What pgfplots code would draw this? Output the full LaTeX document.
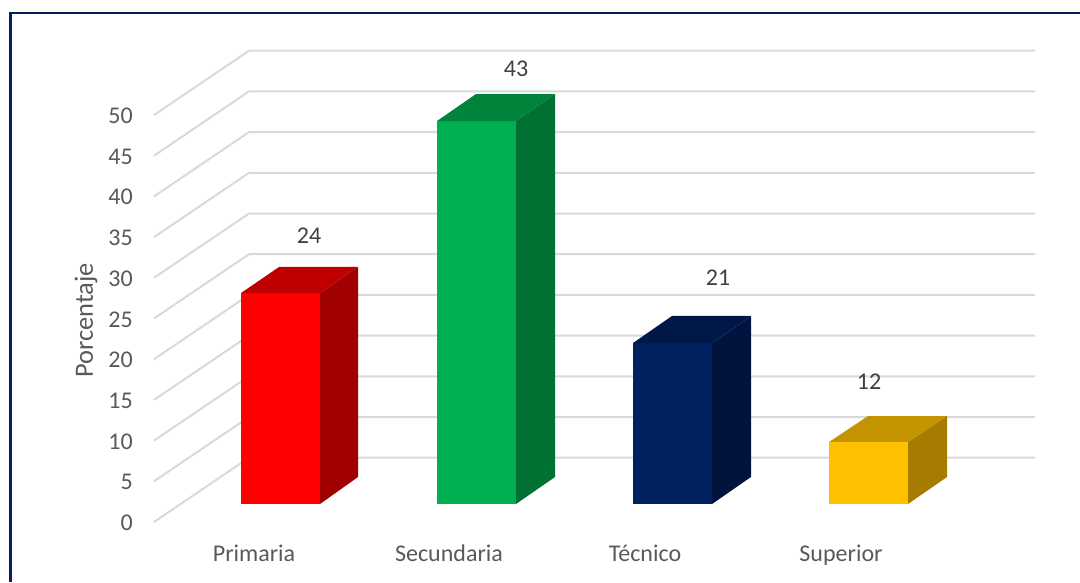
\documentclass[border=0pt]{standalone}
\usepackage{fontspec}
\setmainfont{Carlito}
\usepackage{pgfplots}
\pgfplotsset{compat=1.18}
\definecolor{gridc}{HTML}{D9D9D9}
\definecolor{txt}{HTML}{595959}
\definecolor{vals}{HTML}{404040}
\definecolor{navyframe}{HTML}{002060}
\definecolor{redside}{RGB}{160,0,0}
\definecolor{redtop}{RGB}{192,0,0}
\definecolor{grnfront}{RGB}{0,176,80}
\definecolor{grnside}{RGB}{0,112,51}
\definecolor{grntop}{RGB}{0,132,60}
\definecolor{blufront}{RGB}{0,32,96}
\definecolor{bluside}{RGB}{0,20,61}
\definecolor{blutop}{RGB}{0,24,72}
\definecolor{yelfront}{RGB}{255,192,0}
\definecolor{yelside}{RGB}{166,124,0}
\definecolor{yeltop}{RGB}{196,147,0}
\newcommand{\lab}{\fontsize{18}{20}\selectfont}
\pgfplotsset{
  wall/.style={draw=gridc,line width=1.5pt,line join=miter},
  face/.style={draw=none,fill=#1},
}
\begin{document}
\begin{tikzpicture}
\begin{axis}[
  scale only axis,
  width=660.75pt,
  height=354.09pt,
  xmin=154,xmax=1035,
  ymin=0,ymax=58,
  clip=false,
  axis line style={draw=none},
  major tick length=0pt,
  xtick={254,449,645,841},
  xticklabels={Primaria,Secundaria,Técnico,Superior},
  ytick={0,5,...,50},
  /pgf/number format/assume math mode=true,
  tick label style={font=\lab,text=txt},
  xticklabel style={yshift=-14pt,text height=12pt,text depth=4pt},
  yticklabel style={inner sep=0pt,xshift=-15.75pt,yshift=-0.6pt},
  ylabel={Porcentaje},
  every axis y label/.style={at={(axis description cs:-0.0772,0.4275)},rotate=90,anchor=center,
    font=\fontsize{19.8}{22}\selectfont,text=txt},
]
% back wall and side wall lines
\addplot[wall] coordinates {(154,0)(249,7.9)(1035,7.9)};
\addplot[wall] coordinates {(154,5)(249,12.9)(1035,12.9)};
\addplot[wall] coordinates {(154,10)(249,17.9)(1035,17.9)};
\addplot[wall] coordinates {(154,15)(249,22.9)(1035,22.9)};
\addplot[wall] coordinates {(154,20)(249,27.9)(1035,27.9)};
\addplot[wall] coordinates {(154,25)(249,32.9)(1035,32.9)};
\addplot[wall] coordinates {(154,30)(249,37.9)(1035,37.9)};
\addplot[wall] coordinates {(154,35)(249,42.9)(1035,42.9)};
\addplot[wall] coordinates {(154,40)(249,47.9)(1035,47.9)};
\addplot[wall] coordinates {(154,45)(249,52.9)(1035,52.9)};
\addplot[wall] coordinates {(154,50)(249,57.9)(1035,57.9)};
% Primaria
\addplot[face=red] coordinates {(241,2.21)(320,2.21)(320,28.13)(241,28.13)} -- cycle;
\addplot[face=redside] coordinates {(320,2.21)(358,5.53)(358,31.33)(320,28.13)} -- cycle;
\addplot[face=redtop] coordinates {(241,28.13)(320,28.13)(358,31.33)(279,31.33)} -- cycle;
% Secundaria
\addplot[face=grnfront] coordinates {(437,2.21)(516,2.21)(516,49.26)(437,49.26)} -- cycle;
\addplot[face=grnside] coordinates {(516,2.21)(555,5.53)(555,52.58)(516,49.26)} -- cycle;
\addplot[face=grntop] coordinates {(437,49.26)(516,49.26)(555,52.58)(476,52.58)} -- cycle;
% Tecnico
\addplot[face=blufront] coordinates {(633,2.21)(712,2.21)(712,21.99)(633,21.99)} -- cycle;
\addplot[face=bluside] coordinates {(712,2.21)(751,5.53)(751,25.31)(712,21.99)} -- cycle;
\addplot[face=blutop] coordinates {(633,21.99)(712,21.99)(751,25.31)(672,25.31)} -- cycle;
% Superior
\addplot[face=yelfront] coordinates {(829,2.21)(908,2.21)(908,9.83)(829,9.83)} -- cycle;
\addplot[face=yelside] coordinates {(908,2.21)(947,5.53)(947,13.02)(908,9.83)} -- cycle;
\addplot[face=yeltop] coordinates {(829,9.83)(908,9.83)(947,13.02)(868,13.02)} -- cycle;
% printed values
\node[font=\lab,text=vals] at (axis cs:309,35.14) {24};
\node[font=\lab,text=vals] at (axis cs:516,55.65) {43};
\node[font=\lab,text=vals] at (axis cs:718,29.98) {21};
\node[font=\lab,text=vals] at (axis cs:869,17.2) {12};
% frame, runs off the page right and bottom
\draw[navyframe,line width=1.8pt] (axis cs:10.5,-7.37) -- (axis cs:10.5,62.55) -- (axis cs:1080,62.55);
\coordinate (bl) at (axis cs:0,-7.37);
\coordinate (tr) at (axis cs:1080,64.13);
\end{axis}
\pgfresetboundingbox
\path[use as bounding box] (bl) rectangle (tr);
\end{tikzpicture}
\end{document}
